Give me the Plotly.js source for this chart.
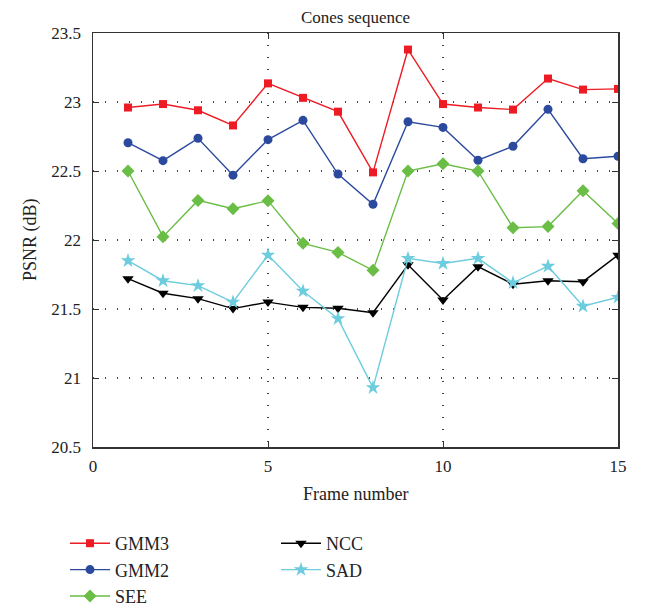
<!DOCTYPE html>
<html><head><meta charset="utf-8">
<script src="https://cdn.plot.ly/plotly-3.0.1.min.js"></script>
<style>body{margin:0;background:#fff}#c{width:651px;height:609px}</style>
</head><body><div id="c"></div>
<script>
const frames = [1,2,3,4,5,6,7,8,9,10,11,12,13,14,15];
const gmm3 = [22.96,22.985,22.94,22.83,23.135,23.03,22.93,22.49,23.38,22.985,22.96,22.945,23.17,23.09,23.095];
const gmm2 = [22.705,22.575,22.737,22.47,22.727,22.867,22.478,22.259,22.857,22.816,22.578,22.679,22.947,22.589,22.607];
const see  = [22.5,22.024,22.287,22.227,22.285,21.976,21.91,21.78,22.5,22.553,22.5,22.089,22.097,22.357,22.12];
const ncc  = [21.72,21.614,21.575,21.503,21.55,21.512,21.505,21.473,21.82,21.565,21.807,21.68,21.705,21.698,21.89];
const sad  = [21.85,21.705,21.669,21.55,21.891,21.63,21.43,20.93,21.867,21.83,21.867,21.69,21.81,21.52,21.585];
const xTicks = [0,5,10,15];
const yTicks = [20.5,21,21.5,22,22.5,23,23.5];

function tr(name, y, color, symbol, size, leg){
  return {x: frames, y: y, name: name, type:'scatter', mode:'lines+markers', legend: leg,
    line:{color:color, width:1.4}, marker:{color:color, symbol:symbol, size:size}};
}
const data = [
  tr('GMM3', gmm3, '#ED1C24', 'square', 8, 'legend'),
  tr('GMM2', gmm2, '#2B4A9E', 'circle', 9, 'legend'),
  tr('SEE', see, '#6ABD45', 'diamond', 10, 'legend'),
  tr('NCC', ncc, '#000000', 'triangle-down', 10, 'legend2'),
  tr('SAD', sad, '#6DCCDD', 'star', 11, 'legend2')
];
const font = {family:'Liberation Serif, Times New Roman, serif', color:'#222'};
const axisCommon = {showline:true, linecolor:'#333', linewidth:1.5, mirror:'ticks', ticks:'inside', ticklen:6,
  tickcolor:'#333', showgrid:true, gridcolor:'#444', griddash:'1px,11px', gridwidth:1.2, zeroline:false, tickfont:{size:17}};
const legCommon = {orientation:'v', xref:'container', yref:'container', xanchor:'left', yanchor:'top',
  font:{size:18}, tracegroupgap:0, itemwidth:40, bgcolor:'rgba(0,0,0,0)'};
const layout = {
  width:651, height:609,
  margin:{l:93, r:33, t:33, b:162, autoexpand:false},
  paper_bgcolor:'#fff', plot_bgcolor:'#fff',
  font: Object.assign({size:16}, font),
  title:{text:'Cones sequence', font:{size:17}, x:(93+618)/2/651, xanchor:'center', y:0.972, yanchor:'middle'},
  xaxis:Object.assign({range:[0,15], tickvals:xTicks, ticktext:xTicks.map(String), ticklabelstandoff:3}, axisCommon),
  yaxis:Object.assign({range:[20.5,23.5], tickvals:yTicks, ticktext:yTicks.map(String), ticklabelstandoff:7}, axisCommon),
  annotations:[
    {text:'Frame number', xref:'paper', yref:'paper', x:0.5, y:-(494-447)/414, xanchor:'center', yanchor:'middle',
      showarrow:false, font:{size:18}},
    {text:'PSNR (dB)', xref:'paper', yref:'paper', x:-(93-30)/525, y:0.5, xanchor:'center', yanchor:'middle',
      textangle:-90, showarrow:false, font:{size:18}}
  ],
  showlegend:true,
  legend:Object.assign({x:65/651, y:1-525/609}, legCommon),
  legend2:Object.assign({x:276/651, y:1-525/609}, legCommon)
};
Plotly.newPlot('c', data, layout, {displayModeBar:false, staticPlot:true});
</script></body></html>
